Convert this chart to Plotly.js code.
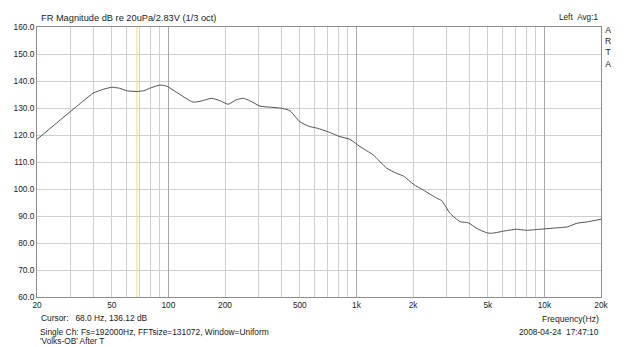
<!DOCTYPE html>
<html>
<head>
<meta charset="utf-8">
<script src="https://cdn.plot.ly/plotly-3.0.1.min.js"></script>
<style>html,body{margin:0;padding:0;background:#fff;}#chart{width:639px;height:347px;}</style>
</head>
<body>
<div id="chart"></div>
<script>
// Frequency response (Hz) and magnitude (dB re 20uPa/2.83V), 1/3 oct smoothing
const freqHz = [20, 25, 30, 35, 40, 45, 50, 55, 60, 68, 74, 81, 90, 98, 110, 135, 150, 170, 188, 208, 229, 250, 271, 307, 350, 400, 443, 470, 501, 555, 620, 700, 818, 924, 1045, 1230, 1450, 1637, 1780, 2015, 2270, 2673, 2843, 3148, 3557, 3937, 4364, 4932, 5245, 6300, 7120, 8050, 9480, 12100, 13300, 14860, 16800, 20000];
const magDb = [118.4, 124.0, 128.6, 132.4, 135.6, 136.9, 137.7, 137.3, 136.4, 136.1, 136.4, 137.5, 138.5, 138.1, 135.9, 132.2, 132.6, 133.6, 132.7, 131.4, 133.0, 133.6, 132.7, 130.7, 130.3, 129.9, 129.0, 127.0, 124.9, 123.3, 122.5, 121.3, 119.4, 118.4, 115.7, 112.6, 107.7, 105.8, 104.8, 101.7, 99.6, 96.6, 95.7, 91.0, 87.9, 87.5, 85.4, 83.8, 83.6, 84.6, 85.1, 84.7, 85.1, 85.7, 86.0, 87.3, 87.8, 88.8];

const cursorFreq = 68.0;
const cursorLevel = 136.12;

const xGridVals = [20,30,40,50,60,70,80,90,100,200,300,400,500,600,700,800,900,1000,2000,3000,4000,5000,6000,7000,8000,9000,10000,20000];
const xLabelMap = {20:'20',50:'50',100:'100',200:'200',500:'500',1000:'1k',2000:'2k',5000:'5k',10000:'10k',20000:'20k'};
const xDecadeVals = [100, 1000, 10000];
const yTickVals = [60,70,80,90,100,110,120,130,140,150,160];

const titleText = 'FR Magnitude dB re 20uPa/2.83V (1/3 oct)';
const channelText = 'Left  Avg:1';
const brandLetters = ['A','R','T','A'];
const xTitleText = 'Frequency(Hz)';
const dateText = '2008-04-24  17:47:10';
const infoText = 'Single Ch: Fs=192000Hz, FFTsize=131072, Window=Uniform';
const nameText = "'Volks-OB' After T";

const nb = s => s.replace(/ {2,}/g, m => '&nbsp;'.repeat(m.length));
const cursorText = 'Cursor:&nbsp;&nbsp;&nbsp;' + cursorFreq.toFixed(1) + ' Hz, ' + cursorLevel.toFixed(2) + ' dB';

const FONT = 'Liberation Sans, Arial, sans-serif';
const TXT = '#1a1a1a';
const L = 37, R = 601, T = 27, B = 297;
const px2x = p => (p - L) / (R - L);
const py2y = p => (B - p) / (B - T);

const traces = [
  {x: [cursorFreq, cursorFreq], y: [60, 160], mode: 'lines', line: {color: '#f0dc78', width: 1}, hoverinfo: 'skip', showlegend: false},
  {x: freqHz, y: magDb, mode: 'lines', line: {color: '#505050', width: 1, shape: 'spline', smoothing: 0.5}, showlegend: false},
  {x: [], y: [], xaxis: 'x2', showlegend: false}
];

const ann = [];
const addText = (text, px, py, xanchor, size) => ann.push({text: text, xref: 'paper', yref: 'paper', x: px2x(px), y: py2y(py), xanchor: xanchor, yanchor: 'middle', showarrow: false, font: {family: FONT, size: size, color: TXT}});
addText(titleText, 39, 18, 'left', 9.25);
addText(nb(channelText), 600, 18, 'right', 8.2);
addText(brandLetters.join('<br>'), 607.5, 47, 'center', 8.6);
addText(xTitleText, 601, 319.3, 'right', 8.6);
addText(nb(dateText), 601, 331.7, 'right', 8.3);
addText(cursorText, 38.5, 318.3, 'left', 8.4);
addText(infoText, 37.5, 331.5, 'left', 8.4);
addText(nameText, 37.5, 341, 'left', 8.3);

const lr = [Math.log10(20), Math.log10(20000)];
const layout = {
  width: 639, height: 347,
  margin: {l: L, r: 639 - R, t: T, b: 347 - B, pad: 0},
  paper_bgcolor: '#ffffff', plot_bgcolor: '#ffffff',
  showlegend: false,
  font: {family: FONT, size: 8.3, color: TXT},
  xaxis: {
    type: 'log', range: lr, tickmode: 'array', tickvals: xGridVals,
    ticktext: xGridVals.map(v => xLabelMap[v] || ''),
    showgrid: true, gridcolor: '#cfcfcf', gridwidth: 1,
    showline: true, linecolor: '#8c8c8c', linewidth: 1, mirror: true,
    ticks: '', zeroline: false, tickfont: {family: FONT, size: 8.3, color: TXT},
    fixedrange: true
  },
  xaxis2: {
    type: 'log', range: lr, overlaying: 'x', anchor: 'y', tickmode: 'array', tickvals: xDecadeVals,
    showticklabels: false, showgrid: true, gridcolor: '#a8a8a8', gridwidth: 1, ticks: '', showline: false, zeroline: false
  },
  yaxis: {
    range: [60, 160], tickmode: 'array', tickvals: yTickVals, tickformat: '.1f',
    showgrid: true, gridcolor: '#cfcfcf', gridwidth: 1,
    showline: true, linecolor: '#8c8c8c', linewidth: 1, mirror: true,
    ticks: '', zeroline: false, tickfont: {family: FONT, size: 8.3, color: TXT},
    fixedrange: true
  },
  annotations: ann
};

Plotly.newPlot('chart', traces, layout, {displayModeBar: false, staticPlot: true});
</script>
</body>
</html>
